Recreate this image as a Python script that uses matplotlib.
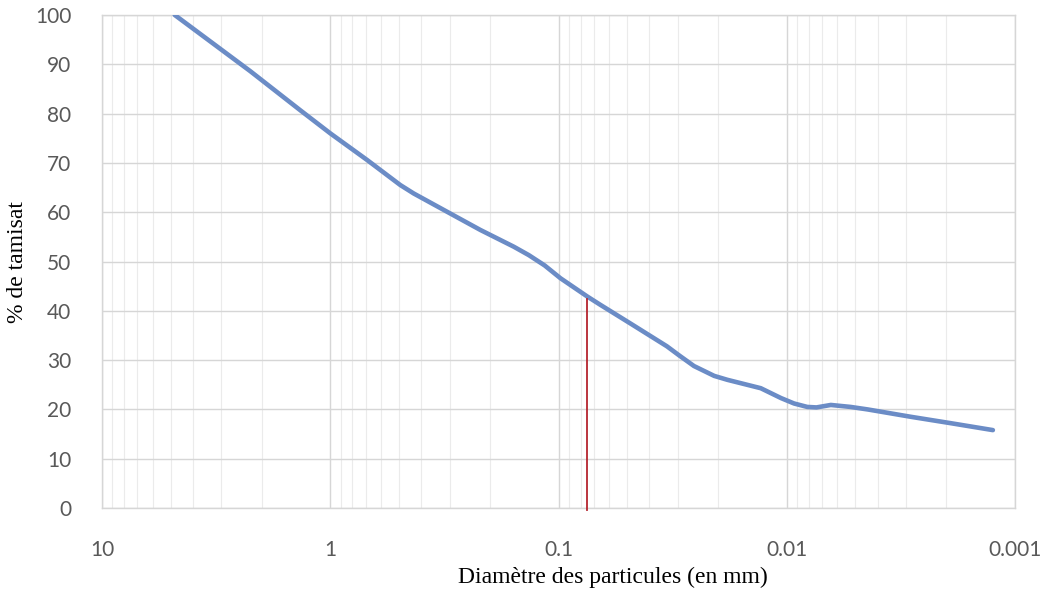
import matplotlib
matplotlib.use("Agg")
import matplotlib.pyplot as plt
from matplotlib.ticker import FixedLocator, LogLocator, NullFormatter

# Data
diameter_mm = [4.8, 2.24, 1.355, 1.0, 0.69, 0.493, 0.431, 0.308, 0.22, 0.157,
               0.135, 0.115, 0.098, 0.0748, 0.0655, 0.0483, 0.0335, 0.0295,
               0.0255, 0.0208, 0.0182, 0.013, 0.0106, 0.00929, 0.00813, 0.00741,
               0.00641, 0.00525, 0.00443, 0.00286, 0.00191, 0.00125]
passing_pct = [100.0, 88.6, 80.7, 76.0, 70.6, 65.5, 63.8, 60.1, 56.4, 53.0,
               51.3, 49.2, 46.6, 42.9, 41.2, 37.4, 32.8, 30.9,
               28.8, 26.8, 26.0, 24.3, 22.3, 21.2, 20.5, 20.4,
               20.9, 20.5, 20.0, 18.5, 17.2, 15.8]
ref_diameter = 0.0748          # red marker
ref_top = 42.4
x_ticks = [10, 1, 0.1, 0.01, 0.001]
x_tick_labels = ["10", "1", "0.1", "0.01", "0.001"]
y_ticks = [0, 10, 20, 30, 40, 50, 60, 70, 80, 90, 100]

fig = plt.figure(figsize=(10.48, 5.90), dpi=100)
ax = fig.add_axes([102/1048, 1-508/590, (1015-102)/1048, (508-15)/590])

ax.set_xscale("log")
ax.set_xlim(10, 0.001)
ax.set_ylim(0, 100)

ax.xaxis.set_major_locator(FixedLocator(x_ticks))
ax.set_xticklabels(x_tick_labels)
ax.xaxis.set_minor_locator(LogLocator(base=10, subs=range(2, 10)))
ax.xaxis.set_minor_formatter(NullFormatter())
ax.set_yticks(y_ticks)

ax.grid(True, which="major", color="#d6d6d6", linewidth=1.0)
ax.grid(True, which="minor", axis="x", color="#ebebeb", linewidth=0.8)
ax.set_axisbelow(True)
for s in ax.spines.values():
    s.set_color("#d6d6d6")
    s.set_linewidth(1.0)

ax.tick_params(which="both", length=0)
ax.tick_params(axis="y", pad=22, labelsize=15, labelcolor="#595959")
ax.tick_params(axis="x", pad=23, labelsize=15, labelcolor="#595959")
for lab in ax.get_xticklabels() + ax.get_yticklabels():
    lab.set_family("Lato")

ax.plot(diameter_mm, passing_pct, color="#6b8cc6", linewidth=3.3,
        solid_capstyle="round", solid_joinstyle="round", zorder=3)
ax.plot([ref_diameter, ref_diameter], [ref_top, -0.5], color="#b5242e",
        linewidth=1.3, zorder=4, clip_on=False)

fig.text(613/1048, 1-577/590, "Diamètre des particules (en mm)",
         family="Liberation Serif", fontsize=17, ha="center", va="center")
fig.text(18/1048, 1-262/590, "% de tamisat", family="Liberation Serif",
         fontsize=17, ha="center", va="center", rotation=90)

fig.savefig("out.png", dpi=100)
